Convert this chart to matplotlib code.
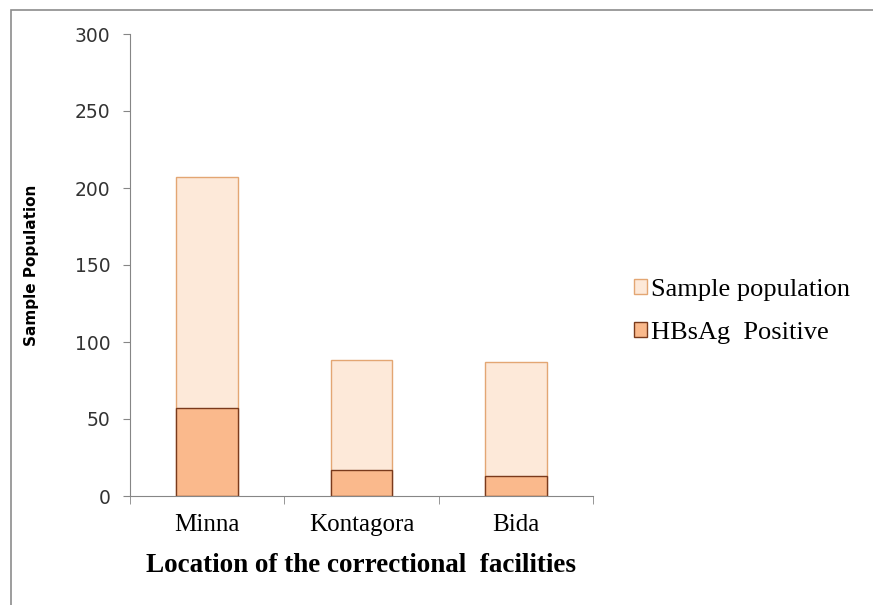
import numpy as np
import matplotlib.pyplot as plt
from matplotlib.patches import Rectangle

locations = ['Minna', 'Kontagora', 'Bida']
sample_population = [207, 88, 87]
hbsag_positive = [57, 17, 13]
y_ticks = [0, 50, 100, 150, 200, 250, 300]

fig = plt.figure(figsize=(8.73, 6.05), dpi=100)
# outer frame of the chart area
fig.patches.append(Rectangle((11/873, -0.05), 1.1, (605-10)/605 + 0.05, transform=fig.transFigure,
                             fill=False, edgecolor='#8c8c8c', linewidth=1.2))

ax = fig.add_axes([130/873, 1 - 496/605, 463/873, 462/605])
x = np.arange(len(locations))
ax.bar(x, sample_population, width=0.4, color='#fde9d9', edgecolor='#e3a673', linewidth=1.0,
       label='Sample population')
ax.bar(x, hbsag_positive, width=0.4, color='#fab98c', edgecolor='#7a3a1c', linewidth=1.0,
       label='HBsAg  Positive')

ax.set_xlim(-0.5, 2.5)
ax.set_ylim(0, 300)
ax.set_yticks(y_ticks)
ax.set_xticks([-0.5, 0.5, 1.5, 2.5], minor=True)
ax.set_xticks(x)
ax.set_xticklabels(locations, fontfamily='Liberation Serif', fontsize=18)
ax.tick_params(axis='x', which='major', length=0, pad=13)
ax.tick_params(axis='x', which='minor', length=6, color='#868686')
ax.tick_params(axis='y', length=5, color='#868686', labelsize=13.5, labelcolor='#333333', pad=9)
for s in ['top', 'right']:
    ax.spines[s].set_visible(False)
for s in ['left', 'bottom']:
    ax.spines[s].set_color('#868686')

ax.set_xlabel('Location of the correctional  facilities', fontfamily='Liberation Serif',
              fontweight='bold', fontsize=19.5, labelpad=12)
ax.set_ylabel('Sample Population', fontweight='bold', fontsize=11, labelpad=26)

ax.legend(loc='center left', bbox_to_anchor=(1.065, 0.40), frameon=False,
          prop={'family': 'Liberation Serif', 'size': 19}, handlelength=0.5, handleheight=0.5,
          handletextpad=0.15, labelspacing=0.8, borderaxespad=0)

fig.savefig('out.png', dpi=100)
